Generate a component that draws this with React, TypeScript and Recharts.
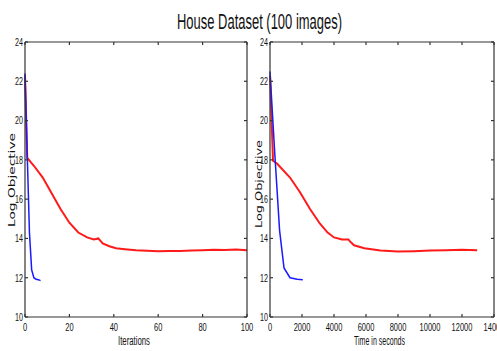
import React from 'react';
import { LineChart, Line, XAxis, YAxis } from 'recharts';

const Y_TICKS = [10, 12, 14, 16, 18, 20, 22, 24];
const ITER_TICKS = [0, 20, 40, 60, 80, 100];
const TIME_TICKS = [0, 2000, 4000, 6000, 8000, 10000, 12000, 14000];

// left panel: objective vs iterations
const iterRedX = [0, 1, 4, 8, 12, 16, 20, 24, 28, 31, 33, 35, 38, 41, 45, 50, 55, 60, 65, 70, 75, 80, 85, 90, 95, 100];
const iterRedY = [22.3, 18.1, 17.7, 17.1, 16.3, 15.5, 14.8, 14.3, 14.05, 13.95, 14.0, 13.75, 13.6, 13.5, 13.45, 13.4, 13.37, 13.35, 13.36, 13.36, 13.38, 13.4, 13.42, 13.41, 13.43, 13.4];
const iterBlueX = [0, 1, 2, 3, 4, 5, 6, 7];
const iterBlueY = [22.4, 18.3, 14.3, 12.4, 12.0, 11.92, 11.9, 11.85];

// right panel: objective vs time in seconds
const timeRedX = [0, 190, 450, 1250, 1875, 2500, 3125, 3600, 4000, 4500, 4900, 5000, 5250, 5900, 6900, 8000, 9000, 10000, 11000, 12000, 12950];
const timeRedY = [22.3, 17.95, 17.8, 17.1, 16.35, 15.5, 14.75, 14.3, 14.05, 13.95, 13.95, 13.85, 13.65, 13.5, 13.38, 13.33, 13.35, 13.38, 13.4, 13.42, 13.4];
const timeBlueX = [0, 300, 600, 875, 1250, 1700, 2050];
const timeBlueY = [22.5, 18.3, 14.4, 12.5, 12.0, 11.92, 11.9];

const zip = (xs: number[], ys: number[]) => xs.map((x, i) => ({ x, y: ys[i] }));

const FONT = "'Liberation Sans', Arial, sans-serif";
const AXIS = '#333';

const SqTick = (p: any) => {
  const { x, y, payload, textAnchor, sx, fs, dy } = p;
  return (
    <text
      transform={`translate(${x},${y}) scale(${sx},1)`}
      textAnchor={textAnchor}
      dy={dy}
      fontSize={fs}
      fontFamily={FONT}
      fill="#111"
    >
      {payload.value}
    </text>
  );
};

const NoTick = () => <g />;

interface PanelProps {
  left: number;
  width: number;
  marginLeft: number;
  marginRight: number;
  xDomain: [number, number];
  xTicks: number[];
  red: { x: number; y: number }[];
  blue: { x: number; y: number }[];
}

const Panel = ({ left, width, marginLeft, marginRight, xDomain, xTicks, red, blue }: PanelProps) => (
  <div style={{ position: 'absolute', left, top: 0 }}>
    <LineChart width={width} height={351} margin={{ top: 41, right: marginRight, bottom: 14, left: marginLeft }}>
      <XAxis
        xAxisId="b"
        dataKey="x"
        type="number"
        domain={xDomain}
        ticks={xTicks}
        interval={0}
        height={20}
        stroke={AXIS}
        strokeWidth={1.2}
        tickSize={-3}
        tickMargin={10}
        tick={(p: any) => <SqTick {...p} sx={0.75} fs={10} dy="0.71em" />}
      />
      <XAxis
        xAxisId="t"
        orientation="top"
        dataKey="x"
        type="number"
        domain={xDomain}
        ticks={xTicks}
        interval={0}
        height={1}
        stroke={AXIS}
        strokeWidth={1.2}
        tickSize={-3}
        tick={NoTick}
      />
      <YAxis
        yAxisId="l"
        type="number"
        domain={[10, 24]}
        ticks={Y_TICKS}
        interval={0}
        width={17}
        stroke={AXIS}
        strokeWidth={1.2}
        tickSize={-3}
        tickMargin={5}
        tick={(p: any) => <SqTick {...p} sx={0.65} fs={11} dy="0.355em" />}
      />
      <YAxis
        yAxisId="r"
        orientation="right"
        type="number"
        domain={[10, 24]}
        ticks={Y_TICKS}
        interval={0}
        width={1}
        stroke={AXIS}
        strokeWidth={1.2}
        tickSize={-3}
        tick={NoTick}
      />
      {/* invisible copy so the top and right frame axes get a scale and draw their tick marks */}
      <Line data={red} dataKey="y" xAxisId="t" yAxisId="r" stroke="none" dot={false} isAnimationActive={false} />
      <Line data={red} dataKey="y" xAxisId="b" yAxisId="l" type="linear" stroke="#ff1a1a" strokeWidth={2} dot={false} isAnimationActive={false} />
      <Line data={blue} dataKey="y" xAxisId="b" yAxisId="l" type="linear" stroke="#1a1aff" strokeWidth={1.5} dot={false} isAnimationActive={false} />
    </LineChart>
  </div>
);

const Labels = () => (
  <svg width={497} height={351} style={{ position: 'absolute', left: 0, top: 0, pointerEvents: 'none' }}>
    <text x={259.5} y={29} textAnchor="middle" fontSize={22} fontFamily={FONT} fill="#111" textLength={165} lengthAdjust="spacingAndGlyphs">
      House Dataset (100 images)
    </text>
    <text x={134} y={345} textAnchor="middle" fontSize={12} fontFamily={FONT} fill="#111" textLength={32} lengthAdjust="spacingAndGlyphs">
      Iterations
    </text>
    <text x={379.5} y={345} textAnchor="middle" fontSize={12} fontFamily={FONT} fill="#111" textLength={51} lengthAdjust="spacingAndGlyphs">
      Time in seconds
    </text>
    <text transform="translate(15,180) rotate(-90)" textAnchor="middle" fontSize={9.5} fontFamily="'DejaVu Sans', sans-serif" fill="#111" textLength={94} lengthAdjust="spacingAndGlyphs">
      Log Objective
    </text>
    <text transform="translate(262,184) rotate(-90)" textAnchor="middle" fontSize={9.5} fontFamily="'DejaVu Sans', sans-serif" fill="#111" textLength={88} lengthAdjust="spacingAndGlyphs">
      Log Objective
    </text>
  </svg>
);

export default function App() {
  return (
    <div style={{ position: 'absolute', left: 0, top: 0, width: 497, height: 351, background: '#fff' }}>
      <Panel left={0} width={260} marginLeft={8} marginRight={12} xDomain={[0, 100]} xTicks={ITER_TICKS} red={zip(iterRedX, iterRedY)} blue={zip(iterBlueX, iterBlueY)} />
      <Panel left={250} width={247} marginLeft={3} marginRight={2} xDomain={[0, 14000]} xTicks={TIME_TICKS} red={zip(timeRedX, timeRedY)} blue={zip(timeBlueX, timeBlueY)} />
      <Labels />
    </div>
  );
}
